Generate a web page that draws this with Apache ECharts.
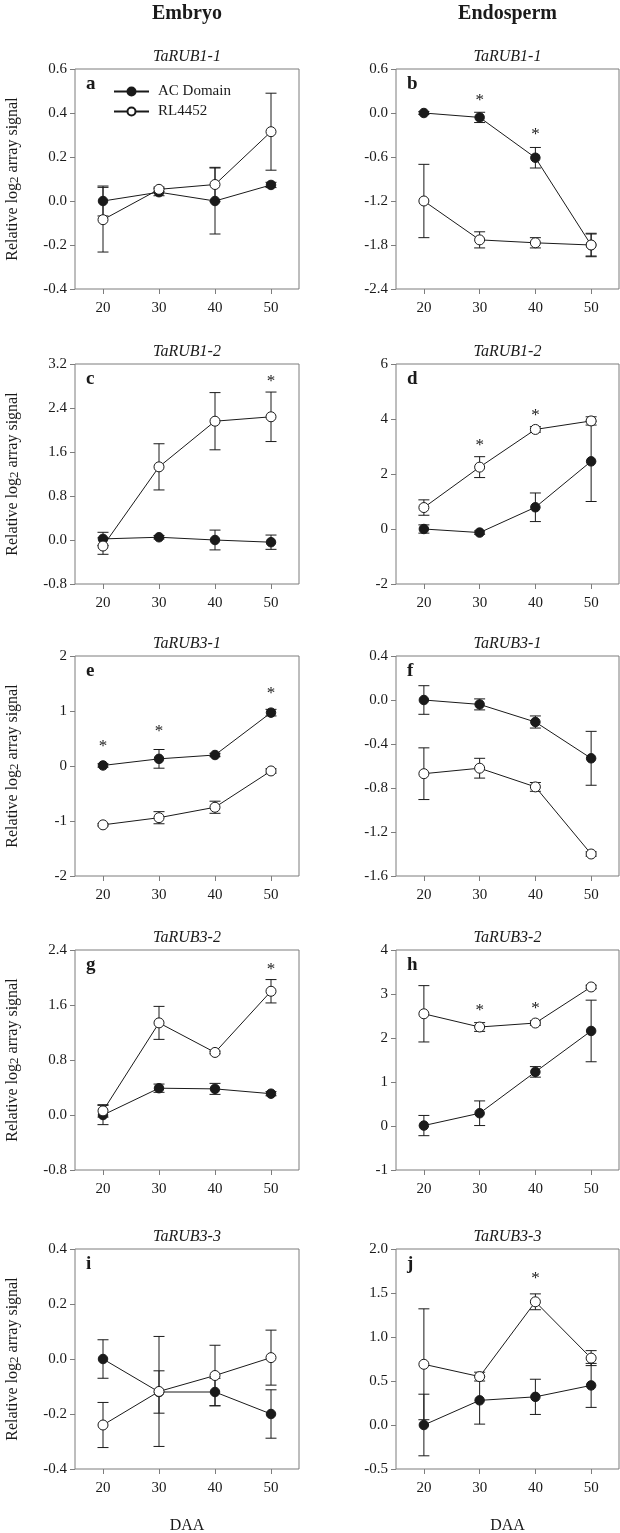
<!DOCTYPE html>
<html>
<head>
<meta charset="utf-8">
<script src="https://cdn.jsdelivr.net/npm/echarts@6/dist/echarts.min.js"></script>
<style>
html,body{margin:0;padding:0;background:#fff;}
#chart{width:620px;height:1533px;}
</style>
</head>
<body>
<div id="chart"></div>
<script>
// ---------- data ----------
const categories = ['20', '30', '40', '50'];
const seriesNames = ['AC Domain', 'RL4452'];
const columnHeaders = ['Embryo', 'Endosperm'];
const xAxisTitle = 'DAA';
const panelLetters = ['a', 'b', 'c', 'd', 'e', 'f', 'g', 'h', 'i', 'j'];
const panelTitles = ['TaRUB1-1', 'TaRUB1-1', 'TaRUB1-2', 'TaRUB1-2', 'TaRUB3-1', 'TaRUB3-1', 'TaRUB3-2', 'TaRUB3-2', 'TaRUB3-3', 'TaRUB3-3'];
const yMins = [-0.4, -2.4, -0.8, -2, -2, -1.6, -0.8, -1, -0.4, -0.5];
const yMaxs = [0.6, 0.6, 3.2, 6, 2, 0.4, 2.4, 4, 0.4, 2.0];
const yIntervals = [0.2, 0.6, 0.8, 2, 1, 0.4, 0.8, 1, 0.2, 0.5];
const yDecimals = [1, 1, 1, 0, 0, 1, 1, 0, 1, 1];

// panel a
const acA = [0.0, 0.04, 0.0, 0.073];   const acAErr = [0.068, 0.016, 0.15, 0.012];
const rlA = [-0.085, 0.053, 0.075, 0.315]; const rlAErr = [0.147, 0.01, 0.078, 0.175];
const starsA = [];
// panel b
const acB = [0.0, -0.06, -0.61, -1.80]; const acBErr = [0.02, 0.07, 0.14, 0.15];
const rlB = [-1.2, -1.73, -1.77, -1.80]; const rlBErr = [0.5, 0.11, 0.07, 0.16];
const starsB = [[1, 0.17], [2, -0.3]];
// panel c
const acC = [0.02, 0.05, 0.0, -0.04]; const acCErr = [0.12, 0.03, 0.18, 0.13];
const rlC = [-0.11, 1.33, 2.16, 2.24]; const rlCErr = [0.15, 0.42, 0.52, 0.45];
const starsC = [[3, 2.88]];
// panel d
const acD = [0.0, -0.13, 0.79, 2.46]; const acDErr = [0.15, 0.06, 0.52, 1.46];
const rlD = [0.78, 2.25, 3.62, 3.93]; const rlDErr = [0.28, 0.38, 0.1, 0.15];
const starsD = [[1, 3.04], [2, 4.14]];
// panel e
const acE = [0.01, 0.13, 0.2, 0.97]; const acEErr = [0.03, 0.17, 0.03, 0.06];
const rlE = [-1.07, -0.94, -0.75, -0.09]; const rlEErr = [0.02, 0.11, 0.11, 0.04];
const starsE = [[0, 0.36], [1, 0.62], [3, 1.32]];
// panel f
const acF = [0.0, -0.04, -0.2, -0.53]; const acFErr = [0.13, 0.05, 0.055, 0.245];
const rlF = [-0.67, -0.62, -0.79, -1.4]; const rlFErr = [0.235, 0.09, 0.04, 0.02];
const starsF = [];
// panel g
const acG = [0.0, 0.39, 0.38, 0.31]; const acGErr = [0.14, 0.06, 0.08, 0.03];
const rlG = [0.06, 1.34, 0.91, 1.8]; const rlGErr = [0.09, 0.24, 0.02, 0.17];
const starsG = [[3, 2.12]];
// panel h
const acH = [0.01, 0.29, 1.23, 2.16]; const acHErr = [0.23, 0.28, 0.12, 0.7];
const rlH = [2.55, 2.25, 2.34, 3.16]; const rlHErr = [0.64, 0.1, 0.05, 0.04];
const starsH = [[1, 2.62], [2, 2.68]];
// panel i
const acI = [0.0, -0.12, -0.12, -0.2]; const acIErr = [0.07, 0.077, 0.05, 0.088];
const rlI = [-0.24, -0.118, -0.06, 0.005]; const rlIErr = [0.082, 0.2, 0.11, 0.1];
const starsI = [];
// panel j
const acJ = [0.0, 0.28, 0.32, 0.45]; const acJErr = [0.35, 0.27, 0.2, 0.25];
const rlJ = [0.69, 0.55, 1.4, 0.76]; const rlJErr = [0.63, 0.05, 0.09, 0.085];
const starsJ = [[2, 1.67]];

const acAll = [acA, acB, acC, acD, acE, acF, acG, acH, acI, acJ];
const acErrAll = [acAErr, acBErr, acCErr, acDErr, acEErr, acFErr, acGErr, acHErr, acIErr, acJErr];
const rlAll = [rlA, rlB, rlC, rlD, rlE, rlF, rlG, rlH, rlI, rlJ];
const rlErrAll = [rlAErr, rlBErr, rlCErr, rlDErr, rlEErr, rlFErr, rlGErr, rlHErr, rlIErr, rlJErr];
const starsAll = [starsA, starsB, starsC, starsD, starsE, starsF, starsG, starsH, starsI, starsJ];

// ---------- layout ----------
const FONT = '"Liberation Serif", "Times New Roman", serif';
const INK = '#1a1a1a';
const FRAME = '#7d7d7d';
const LEFTS = [75, 396];
const WIDTHS = [224, 223];
const TOPS = [69, 364, 656, 950, 1249];
const H = 220;

function fmt(v, d) {
  let s = v.toFixed(d);
  if (/^-0(\.0+)?$/.test(s)) s = s.slice(1);
  return s;
}

const grid = [], xAxis = [], yAxis = [], series = [], graphic = [];

function errSeries(p, vals, errs) {
  return {
    type: 'custom', xAxisIndex: p, yAxisIndex: p, silent: true, z: 2,
    data: vals.map((v, i) => [i, v, errs[i]]),
    renderItem: function (params, api) {
      const x = api.value(0), v = api.value(1), e = api.value(2);
      const t = api.coord([x, v + e]);
      const b = api.coord([x, v - e]);
      const hw = 5.5;
      const st = { stroke: INK, lineWidth: 1 };
      return {
        type: 'group', children: [
          { type: 'line', shape: { x1: t[0], y1: t[1], x2: b[0], y2: b[1] }, style: st },
          { type: 'line', shape: { x1: t[0] - hw, y1: t[1], x2: t[0] + hw, y2: t[1] }, style: st },
          { type: 'line', shape: { x1: b[0] - hw, y1: b[1], x2: b[0] + hw, y2: b[1] }, style: st }
        ]
      };
    }
  };
}

for (let p = 0; p < 10; p++) {
  const col = p % 2, row = Math.floor(p / 2);
  const left = LEFTS[col], top = TOPS[row], w = WIDTHS[col];
  grid.push({ left: left, top: top, width: w, height: H, show: true, borderColor: FRAME, borderWidth: 1, backgroundColor: 'transparent' });
  xAxis.push({
    type: 'category', gridIndex: p, data: categories, boundaryGap: true, position: 'bottom',
    axisLine: { show: false, onZero: false },
    axisTick: { show: true, alignWithLabel: true, length: 5, lineStyle: { color: FRAME } },
    axisLabel: { margin: 12, fontFamily: FONT, fontSize: 15, color: INK },
    splitLine: { show: false }
  });
  const d = yDecimals[p];
  yAxis.push({
    type: 'value', gridIndex: p, min: yMins[p], max: yMaxs[p], interval: yIntervals[p], position: 'left',
    axisLine: { show: false, onZero: false },
    axisTick: { show: true, length: 5, lineStyle: { color: FRAME } },
    axisLabel: { margin: 8, fontFamily: FONT, fontSize: 15, color: INK, formatter: v => fmt(v, d) },
    splitLine: { show: false }
  });
  series.push(errSeries(p, acAll[p], acErrAll[p]));
  series.push(errSeries(p, rlAll[p], rlErrAll[p]));
  series.push({
    type: 'line', name: seriesNames[0], xAxisIndex: p, yAxisIndex: p, data: acAll[p],
    symbol: 'circle', symbolSize: 9.5, showAllSymbol: true, z: 3,
    itemStyle: { color: INK, borderColor: INK, borderWidth: 1 },
    lineStyle: { color: INK, width: 1 }
  });
  series.push({
    type: 'line', name: seriesNames[1], xAxisIndex: p, yAxisIndex: p, data: rlAll[p],
    symbol: 'circle', symbolSize: 10, showAllSymbol: true, z: 4,
    itemStyle: { color: '#fff', borderColor: INK, borderWidth: 1 },
    lineStyle: { color: INK, width: 1 }
  });
  series.push({
    type: 'custom', xAxisIndex: p, yAxisIndex: p, silent: true, z: 5,
    data: starsAll[p],
    renderItem: function (params, api) {
      const c = api.coord([api.value(0), api.value(1)]);
      return { type: 'text', x: c[0], y: c[1], style: { text: '*', fontFamily: FONT, fontSize: 17, fill: INK, align: 'center', verticalAlign: 'middle' } };
    }
  });
  // panel title
  graphic.push({ type: 'text', x: left + w / 2, y: top - 12, style: { text: panelTitles[p], fontFamily: FONT, fontStyle: 'italic', fontSize: 16, fill: INK, align: 'center', verticalAlign: 'middle' } });
  // panel letter
  graphic.push({ type: 'text', x: left + 11, y: top + 15, style: { text: panelLetters[p], fontFamily: FONT, fontWeight: 'bold', fontSize: 19, fill: INK, align: 'left', verticalAlign: 'middle' } });
  // y axis title (left column)
  if (col === 0) {
    graphic.push({
      type: 'text', x: 13, y: top + H / 2, rotation: Math.PI / 2,
      style: {
        text: 'Relative log{s|2} array signal', fontFamily: FONT, fontSize: 16, fill: INK,
        align: 'center', verticalAlign: 'middle',
        rich: { s: { fontFamily: FONT, fontSize: 13, fill: INK, lineHeight: 12, verticalAlign: 'bottom' } }
      }
    });
  }
}

for (let c = 0; c < 2; c++) {
  const cx = LEFTS[c] + WIDTHS[c] / 2;
  graphic.push({ type: 'text', x: cx, y: 14, style: { text: columnHeaders[c], fontFamily: FONT, fontWeight: 'bold', fontSize: 20, fill: INK, align: 'center', verticalAlign: 'middle' } });
  graphic.push({ type: 'text', x: cx, y: 1526, style: { text: xAxisTitle, fontFamily: FONT, fontSize: 16, fill: INK, align: 'center', verticalAlign: 'middle' } });
}

const chart = echarts.init(document.getElementById('chart'), null, { renderer: 'canvas' });
chart.setOption({
  animation: false,
  backgroundColor: '#fff',
  grid: grid, xAxis: xAxis, yAxis: yAxis, series: series, graphic: graphic,
  legend: {
    orient: 'vertical', left: 113, top: 84, padding: 0, itemWidth: 35, itemHeight: 10, itemGap: 5,
    selectedMode: false, data: seriesNames,
    textStyle: { fontFamily: FONT, fontSize: 15, color: INK, padding: [0, 0, 0, 4] }
  }
});
</script>
</body>
</html>
